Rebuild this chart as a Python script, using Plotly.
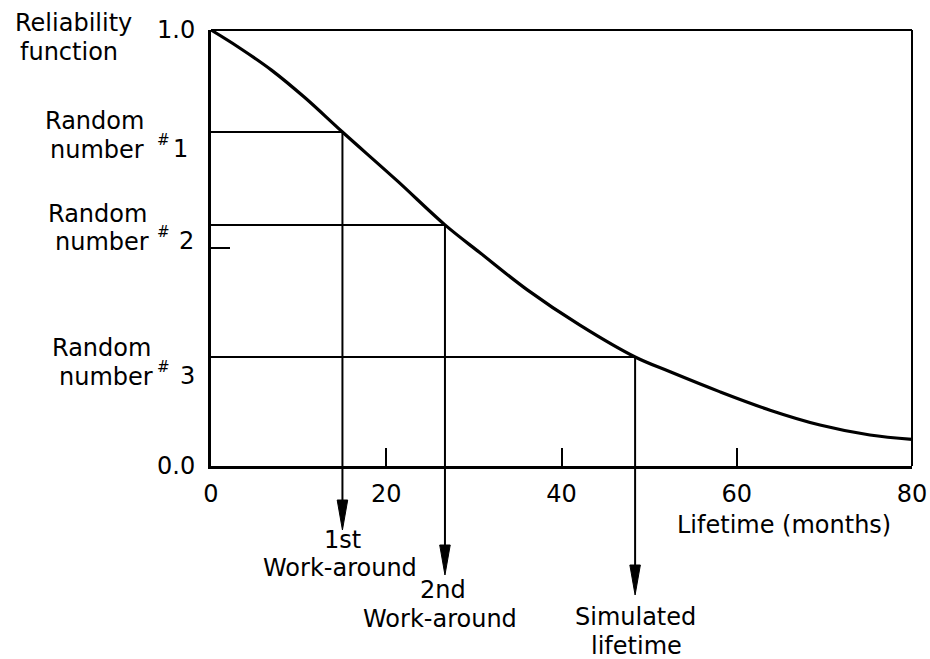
import plotly.graph_objects as go

# ---- data ----
lifetime_months = [0.0, 3.1, 6.9, 10.7, 15.0, 21.2, 26.7, 30.7, 36.1, 42.1, 48.4,
                   52.4, 58.1, 63.8, 69.5, 75.2, 80.0]
reliability = [1.000, 0.961, 0.908, 0.845, 0.766, 0.655, 0.553, 0.489, 0.404, 0.323,
               0.250, 0.216, 0.170, 0.128, 0.094, 0.071, 0.061]

random_numbers = [0.766, 0.553, 0.250]          # Random number #1, #2, #3
drawn_lifetimes = [15.0, 26.7, 48.4]            # where they meet the curve
random_labels = ["1", "2", "3"]
arrow_labels = [["1st", "Work-around"], ["2nd", "Work-around"], ["Simulated", "lifetime"]]

x_ticks = [0, 20, 40, 60, 80]
x_ticktext = ["0", "20", "40", "60", "80"]
y_ticks = [0.0, 0.5, 1.0]
y_ticktext = ["0.0", "", "1.0"]

# ---- layout geometry (pixels) ----
W, H = 930, 659
L, R, T, B = 211, 912, 30, 466
FONT = "DejaVu Sans"
FS = 24


def px(xp):
    return (xp - L) / (R - L)


def py(yp):
    return (B - yp) / (B - T)


fig = go.Figure()
fig.add_trace(go.Scatter(x=lifetime_months, y=reliability, mode="lines",
                         line=dict(color="black", width=3.2, shape="spline", smoothing=1.0),
                         hoverinfo="skip", showlegend=False))

shapes = []
# top and right frame lines (thinner than the axes)
shapes.append(dict(type="line", xref="paper", yref="paper", x0=0, x1=1, y0=1, y1=1,
                   line=dict(color="black", width=2)))
shapes.append(dict(type="line", xref="paper", yref="paper", x0=1, x1=1, y0=0, y1=1,
                   line=dict(color="black", width=2)))

tip_px = [530, 575, 595]     # arrow tip pixel rows (layout)
head_len = 30
head_half = 0.6              # half width of arrowhead in x units

for rn, lt, tip in zip(random_numbers, drawn_lifetimes, tip_px):
    # horizontal from the y axis to the curve
    shapes.append(dict(type="line", xref="x", yref="y", x0=0, x1=lt, y0=rn, y1=rn,
                       line=dict(color="black", width=2)))
    # vertical from the curve down to the arrowhead (paper == data on y, range [0,1])
    top = py(tip - head_len)
    shapes.append(dict(type="line", xref="x", yref="paper", x0=lt, x1=lt, y0=rn, y1=top,
                       line=dict(color="black", width=2)))
    shapes.append(dict(type="path", xref="x", yref="paper",
                       path=f"M {lt - head_half},{top} L {lt + head_half},{top} L {lt},{py(tip)} Z",
                       fillcolor="black", line=dict(color="black", width=1)))

annotations = []


def add_text(text, xc, yc, size=FS, xanchor="center"):
    annotations.append(dict(text=text, x=px(xc), y=py(yc), xref="paper", yref="paper",
                            showarrow=False, xanchor=xanchor, yanchor="middle",
                            font=dict(family=FONT, size=size, color="black")))


add_text("Reliability", 73, 23)
add_text("function", 69, 52)

rn_rows = [(121, 150), (214, 242), (348, 377)]
rn_cx = [(94, 97), (97, 102), (101, 106)]
digit_cx = [180, 186, 187]
for (ry, ny), (rx, nx), lab, dx in zip(rn_rows, rn_cx, random_labels, digit_cx):
    add_text("Random", rx, ry)
    add_text("number", nx, ny)
    add_text("#", 163, ny - 10, size=15)
    add_text(lab, dx, ny - 1)

arrow_rows = [(540, 568), (590, 619), (617, 646)]
arrow_cx = [(342, 340), (443, 440), (635, 636)]
for (l1, l2), (y1, y2), (x1, x2) in zip(arrow_labels, arrow_rows, arrow_cx):
    add_text(l1, x1, y1)
    add_text(l2, x2, y2)

add_text("Lifetime (months)", 784, 525)

fig.update_layout(
    width=W, height=H, autosize=False,
    margin=dict(l=L, r=W - R, t=T, b=H - B, pad=0, autoexpand=False),
    paper_bgcolor="white", plot_bgcolor="white",
    shapes=shapes, annotations=annotations,
    showlegend=False,
    font=dict(family=FONT, size=FS, color="black"),
    xaxis=dict(range=[0, 80], tickvals=x_ticks, ticktext=x_ticktext,
               ticks="inside", ticklen=18, tickwidth=2, tickcolor="black",
               showline=True, linewidth=3, linecolor="black", automargin=False,
               showgrid=False, zeroline=False, ticklabelstandoff=4,
               tickfont=dict(family=FONT, size=FS, color="black")),
    yaxis=dict(range=[0, 1], tickvals=y_ticks, ticktext=y_ticktext,
               ticks="inside", ticklen=19, tickwidth=2, tickcolor="black",
               showline=True, linewidth=3, linecolor="black", automargin=False,
               showgrid=False, zeroline=False, ticklabelstandoff=8,
               tickfont=dict(family=FONT, size=FS, color="black")),
)

fig.write_html("out.html",
               config={"responsive": False, "displayModeBar": False},
               post_script="document.body.style.margin='0';document.body.style.overflow='hidden';")
